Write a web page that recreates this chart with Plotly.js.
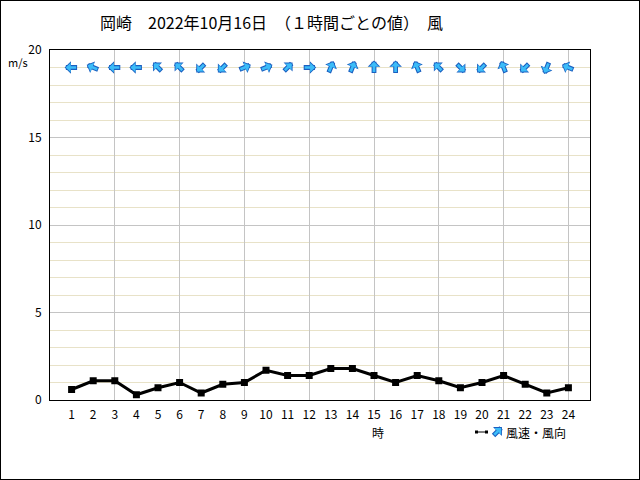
<!DOCTYPE html>
<html>
<head>
<meta charset="utf-8">
<script src="https://cdn.plot.ly/plotly-3.0.1.min.js"></script>
<style>
html,body{margin:0;padding:0;background:#fff;}
#frame{width:640px;height:480px;box-sizing:border-box;border:1px solid #000;position:relative;overflow:hidden;}
#chart{position:absolute;left:-1px;top:-1px;width:640px;height:480px;}
</style>
</head>
<body>
<div id="frame"><div id="chart"></div></div>
<script>
const hours = [1,2,3,4,5,6,7,8,9,10,11,12,13,14,15,16,17,18,19,20,21,22,23,24];
const hourLabels = hours.map(String);
const windSpeed = [0.6,1.1,1.1,0.3,0.7,1.0,0.4,0.9,1.0,1.7,1.4,1.4,1.8,1.8,1.4,1.0,1.4,1.1,0.7,1.0,1.4,0.9,0.4,0.7];
// arrow pointing direction (degrees clockwise from north)
const arrowDeg = [270,292.5,270,270,315,315,225,225,67.5,67.5,45,90,22.5,22.5,0,0,337.5,315,135,225,337.5,225,202.5,292.5];
const arrowRowValue = 19;
const gridHours = [3,6,9,12,15,18,21,24];
const titleText = '岡崎　2022年10月16日　（１時間ごとの値）　風';
const yTicks = [0,5,10,15,20];

const FONT = 'Noto Sans CJK JP, DejaVu Sans, sans-serif';
const LIGHT = '#3cbcf8';
const DARK = '#1a5fc0';

function arrowAnns(x, y, deg, xref, yref) {
  const r = deg * Math.PI / 180;
  const sx = Math.sin(r), cy = Math.cos(r);
  const half = 7, len = 14;
  const base = {x: x, y: y, xref: xref, yref: yref, text: '', showarrow: true, arrowhead: 1,
    xshift: half * sx, yshift: half * cy, ax: -len * sx, ay: len * cy, axref: 'pixel', ayref: 'pixel'};
  return [
    Object.assign({}, base, {arrowwidth: 4.8, arrowsize: 0.44, arrowcolor: DARK}),
    Object.assign({}, base, {arrowwidth: 2.7, arrowsize: 0.6, arrowcolor: LIGHT, standoff: 1.2, startstandoff: 1})
  ];
}

const traces = [
  {x: hours, y: windSpeed, type: 'scatter', mode: 'lines+markers', xaxis: 'x2', yaxis: 'y',
   line: {color: '#000', width: 3}, marker: {symbol: 'square', size: 7, color: '#000'},
   showlegend: false, hoverinfo: 'skip'}
];

let anns = [];
hours.forEach((h, i) => { anns = anns.concat(arrowAnns(h, arrowRowValue, arrowDeg[i], 'x', 'y')); });

anns.push(
  {text: 'm/s', xref: 'paper', yref: 'paper', x: -32/540, y: 1 - 12/350, xanchor: 'center', yanchor: 'middle',
   showarrow: false, font: {family: FONT, size: 11}},
  {text: '時', xref: 'x', yref: 'paper', x: 15.2, y: -32/350, xanchor: 'center', yanchor: 'middle',
   showarrow: false, font: {family: FONT, size: 12}},
  {text: '風速・風向', xref: 'paper', yref: 'paper', x: (504-50)/540, y: -32/350, xanchor: 'left', yanchor: 'middle',
   showarrow: false, font: {family: FONT, size: 12}}
);
anns = anns.concat(arrowAnns((497-50)/540, -32/350, 45, 'paper', 'paper'));

const layout = {
  width: 640, height: 480,
  margin: {l: 50, r: 50, t: 50, b: 80},
  paper_bgcolor: '#fff', plot_bgcolor: '#fff',
  font: {family: FONT, size: 12, color: '#000'},
  title: {text: titleText, x: 100/640, xanchor: 'left', xref: 'container', y: 1 - 23/480, yanchor: 'middle', yref: 'container',
          font: {family: FONT, size: 16, color: '#000'}},
  xaxis: {range: [0, 25], tickmode: 'array', tickvals: gridHours, showticklabels: false, showgrid: true,
          gridcolor: '#c4c4c4', gridwidth: 1, zeroline: false, showline: true, linecolor: '#000', linewidth: 1,
          mirror: true, ticks: ''},
  xaxis2: {range: [0, 25], overlaying: 'x', side: 'bottom', tickmode: 'array', tickvals: hours, ticktext: hourLabels,
           showgrid: false, zeroline: false, ticks: '', showline: false, tickfont: {family: FONT, size: 12},
           ticklabelstandoff: 6},
  yaxis: {range: [0, 20], tickmode: 'array', tickvals: yTicks, showgrid: true, gridcolor: '#c4c4c4',
          minor: {dtick: 1, tick0: 0, showgrid: true, gridcolor: '#e8e2c8', gridwidth: 1},
          zeroline: false, showline: true, linecolor: '#000', linewidth: 1, mirror: true, ticks: '',
          tickfont: {family: FONT, size: 12}, ticklabelstandoff: 5},
  showlegend: false,
  annotations: anns,
  shapes: [
    {type: 'line', xref: 'paper', yref: 'paper', x0: (476-50)/540, x1: (487-50)/540, y0: -32/350, y1: -32/350,
     line: {color: '#000', width: 1}},
    {type: 'rect', xref: 'paper', yref: 'paper', x0: (475-50)/540, x1: (478-50)/540, y0: -30.5/350, y1: -33.5/350,
     line: {width: 0}, fillcolor: '#000'},
    {type: 'rect', xref: 'paper', yref: 'paper', x0: (485-50)/540, x1: (488-50)/540, y0: -30.5/350, y1: -33.5/350,
     line: {width: 0}, fillcolor: '#000'}
  ]
};

Plotly.newPlot('chart', traces, layout, {displayModeBar: false, staticPlot: true});
</script>
</body>
</html>
